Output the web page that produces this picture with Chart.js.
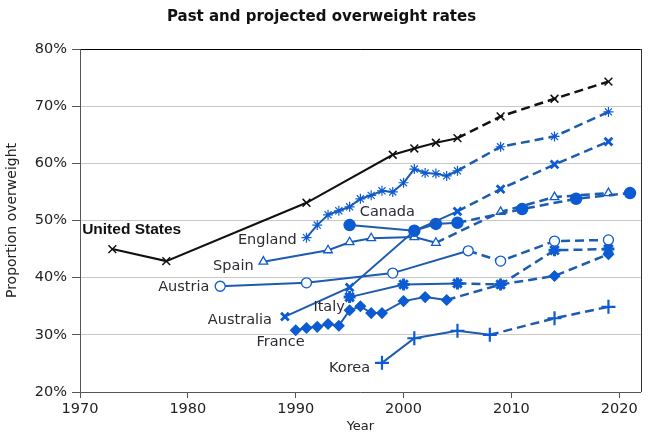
<!DOCTYPE html>
<html>
<head>
<meta charset="utf-8">
<script src="https://cdn.jsdelivr.net/npm/chart.js@4.4.1/dist/chart.umd.min.js"></script>
<style>
  html, body { margin: 0; padding: 0; background: #fff; }
  #wrap { width: 650px; height: 440px; }
</style>
</head>
<body>
<div id="wrap"><canvas id="chart" width="650" height="440"></canvas></div>
<script>
// values in percent, projections start after the *ProjFrom year
const usYears = [1973, 1978, 1991, 1999, 2001, 2003, 2005, 2009, 2014, 2019];
const usValues = [45.0, 42.9, 53.1, 61.5, 62.6, 63.6, 64.4, 68.2, 71.3, 74.3];
const usProjFrom = 2005;

const englandYears = [1991, 1992, 1993, 1994, 1995, 1996, 1997, 1998, 1999, 2000, 2001, 2002, 2003, 2004, 2005, 2009, 2014, 2019];
const englandValues = [47.0, 49.2, 51.0, 51.7, 52.4, 53.8, 54.4, 55.2, 55.0, 56.6, 59.0, 58.3, 58.2, 57.8, 58.7, 62.9, 64.7, 69.0];
const englandProjFrom = 2005;

const australiaYears = [1989, 1995, 2001, 2005, 2009, 2014, 2019];
const australiaValues = [33.2, 38.3, 48.2, 51.6, 55.5, 59.8, 63.8];
const australiaProjFrom = 2005;

const canadaYears = [1995, 2001, 2003, 2005, 2011, 2016, 2021];
const canadaValues = [49.2, 48.2, 49.4, 49.6, 52.0, 53.8, 54.8];
const canadaProjFrom = 2005;

const spainYears = [1987, 1993, 1995, 1997, 2001, 2003, 2009, 2014, 2019];
const spainValues = [42.8, 44.8, 46.2, 46.9, 47.1, 46.1, 51.5, 54.1, 54.8];
const spainProjFrom = 2003;

const austriaYears = [1983, 1991, 1999, 2006, 2009, 2014, 2019];
const austriaValues = [38.5, 39.1, 40.8, 44.7, 42.9, 46.4, 46.6];
const austriaProjFrom = 2006;

const italyYears = [1995, 2000, 2005, 2009, 2014, 2019];
const italyValues = [36.6, 38.8, 39.0, 38.8, 44.8, 45.0];
const italyProjFrom = 2005;

const franceYears = [1990, 1991, 1992, 1993, 1994, 1995, 1996, 1997, 1998, 2000, 2002, 2004, 2009, 2014, 2019];
const franceValues = [30.8, 31.2, 31.4, 31.9, 31.6, 34.3, 35.0, 33.8, 33.8, 35.9, 36.6, 36.1, 38.8, 40.3, 44.1];
const franceProjFrom = 2004;

const koreaYears = [1998, 2001, 2005, 2008, 2014, 2019];
const koreaValues = [25.1, 29.4, 30.7, 30.0, 32.9, 34.9];
const koreaProjFrom = 2008;

const xTicks = [1970, 1980, 1990, 2000, 2010, 2020];
const yTicks = [20, 30, 40, 50, 60, 70, 80];

const countryLabels = [
    { text: 'United States', x: 1970.2, y: 48.3, align: 'left', bold: true },
    { text: 'Canada', x: 1998.5, y: 51.4, align: 'center' },
    { text: 'England', x: 1990.1, y: 46.6, align: 'right' },
    { text: 'Spain', x: 1986.1, y: 42.0, align: 'right' },
    { text: 'Austria', x: 1982.0, y: 38.4, align: 'right' },
    { text: 'Italy', x: 1993.1, y: 34.9, align: 'center' },
    { text: 'Australia', x: 1987.8, y: 32.6, align: 'right' },
    { text: 'France', x: 1988.6, y: 28.7, align: 'center' },
    { text: 'Korea', x: 1995.0, y: 24.2, align: 'center' }
];

const BLUE = '#1c5cae';
const MARK = '#0d5bd3';
const DASH = [9, 5];

function points(years, values) {
    return years.map((yr, i) => ({ x: yr, y: values[i] }));
}

function series(label, years, values, projFrom, opts) {
    return Object.assign({
        label: label,
        data: points(years, values),
        borderColor: BLUE,
        borderWidth: 2,
        pointBorderColor: MARK,
        pointBackgroundColor: MARK,
        pointBorderWidth: 1.5,
        pointRadius: 4.5,
        tension: 0,
        fill: false,
        segment: {
            borderDash: ctx => ctx.p0.parsed.x >= projFrom ? DASH : undefined,
            borderWidth: ctx => ctx.p0.parsed.x >= projFrom ? 2.5 : 2
        }
    }, opts);
}

// draws the country names and the right border of the plot
const decorPlugin = {
    id: 'decor',
    afterDatasetsDraw(chart) {
        const ctx = chart.ctx;
        const xs = chart.scales.x, ys = chart.scales.y;
        const area = chart.chartArea;
        ctx.save();
        ctx.strokeStyle = '#333';
        ctx.lineWidth = 1;
        ctx.beginPath();
        ctx.moveTo(Math.round(area.right) + 0.5, area.top);
        ctx.lineTo(Math.round(area.right) + 0.5, area.bottom);
        ctx.stroke();
        ctx.textBaseline = 'middle';
        countryLabels.forEach(l => {
            ctx.font = l.bold ? 'bold 15.5px "Liberation Sans", Arial, sans-serif' : '14.5px "DejaVu Sans", Verdana, sans-serif';
            ctx.fillStyle = l.bold ? '#111' : '#2e2a33';
            ctx.textAlign = l.align;
            ctx.fillText(l.text, xs.getPixelForValue(l.x), ys.getPixelForValue(l.y));
        });
        ctx.restore();
    }
};

const chart = new Chart(document.getElementById('chart'), {
    type: 'line',
    data: {
        datasets: [
            series('United States', usYears, usValues, usProjFrom, {
                borderColor: '#111', pointBorderColor: '#111', pointBackgroundColor: '#111',
                pointStyle: 'crossRot', pointRadius: 5.5, pointBorderWidth: 1.5
            }),
            series('England', englandYears, englandValues, englandProjFrom, {
                pointStyle: 'star', pointRadius: 5, pointBorderWidth: 1.2
            }),
            series('Australia', australiaYears, australiaValues, australiaProjFrom, {
                pointStyle: 'crossRot', pointRadius: 5.5, pointBorderWidth: 2.8
            }),
            series('Canada', canadaYears, canadaValues, canadaProjFrom, {
                pointStyle: 'circle', pointRadius: 5.5
            }),
            series('Spain', spainYears, spainValues, spainProjFrom, {
                pointStyle: 'triangle', pointRadius: 5, pointBackgroundColor: '#fff', pointBorderWidth: 1.3
            }),
            series('Austria', austriaYears, austriaValues, austriaProjFrom, {
                pointStyle: 'circle', pointRadius: 5, pointBackgroundColor: '#fff', pointBorderWidth: 1.3
            }),
            series('Italy', italyYears, italyValues, italyProjFrom, {
                pointStyle: 'star', pointRadius: 6, pointBorderWidth: 3
            }),
            series('France', franceYears, franceValues, franceProjFrom, {
                pointStyle: 'rectRot', pointRadius: 5
            }),
            series('Korea', koreaYears, koreaValues, koreaProjFrom, {
                pointStyle: 'cross', pointRadius: 7, pointBorderWidth: 2.2
            })
        ]
    },
    options: {
        responsive: false,
        animation: false,
        layout: { padding: { left: 0, right: 7, top: 0, bottom: 0 } },
        plugins: {
            legend: { display: false },
            tooltip: { enabled: false },
            title: {
                display: true,
                text: 'Past and projected overweight rates',
                color: '#111',
                font: { family: '"DejaVu Sans", Verdana, sans-serif', size: 15, weight: 'bold' },
                padding: { top: 8, bottom: 23 }
            }
        },
        scales: {
            x: {
                type: 'linear',
                min: 1970,
                max: 2022,
                afterFit: s => { s.height = 48; },
                afterBuildTicks: s => { s.ticks = xTicks.map(v => ({ value: v })); },
                grid: { drawOnChartArea: false, drawTicks: true, tickLength: 6, tickColor: '#555' },
                border: { color: '#555' },
                ticks: {
                    color: '#222', padding: 3, maxRotation: 0, autoSkip: false,
                    font: { family: '"DejaVu Sans", Verdana, sans-serif', size: 14.5 },
                    callback: v => String(v)
                },
                title: {
                    display: true, text: 'Year', color: '#222',
                    font: { family: '"DejaVu Sans", Verdana, sans-serif', size: 13 },
                    padding: { top: 0, bottom: 6 }
                }
            },
            y: {
                min: 20,
                max: 80,
                afterFit: s => { s.width = 80; },
                afterBuildTicks: s => { s.ticks = yTicks.map(v => ({ value: v })); },
                grid: {
                    color: c => c.tick && c.tick.value === 80 ? '#000' : '#c8c8c8',
                    tickColor: '#555', tickLength: 8, lineWidth: 1
                },
                border: { color: '#555' },
                ticks: {
                    color: '#222', padding: 5,
                    font: { family: '"DejaVu Sans", Verdana, sans-serif', size: 14.5 },
                    callback: v => v + '%'
                },
                title: {
                    display: true, text: 'Proportion overweight', color: '#222',
                    font: { family: '"DejaVu Sans", Verdana, sans-serif', size: 14 },
                    padding: { top: 4, bottom: 0 }
                }
            }
        }
    },
    plugins: [decorPlugin]
});
</script>
</body>
</html>
